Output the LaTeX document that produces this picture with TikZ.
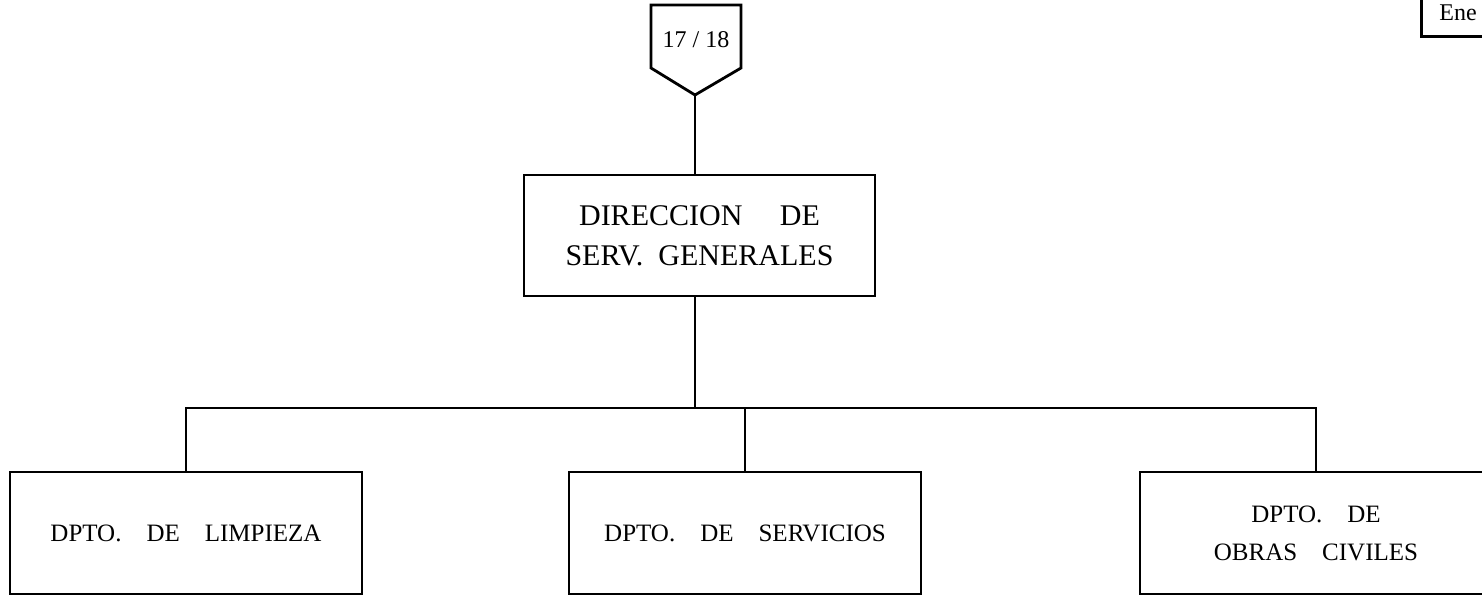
\documentclass[tikz,border=0pt]{standalone}
\usepackage{fontspec}
\setmainfont{Liberation Serif}
\usetikzlibrary{positioning, calc}
\tikzset{
  every picture/.style={line width=1.4pt},
  unit/.style={draw, align=center, inner sep=0pt, minimum width=175.5pt, minimum height=60.5pt, font=\fontsize{15}{20}\selectfont},
  dept/.style={draw, align=center, inner sep=0pt, minimum width=176pt, minimum height=61pt, font=\fontsize{12.5}{19}\selectfont},
  tag/.style={font=\fontsize{12}{14}\selectfont, inner sep=1pt},
}

\begin{document}
\begin{tikzpicture}[x=0.5pt, y=-0.5pt]
  \useasboundingbox (0,0) rectangle (1482,594);
  \clip (0,0) rectangle (1482,594);
  % date box, cut off at the right
  \node[draw, tag, anchor=south west, minimum height=24pt, text width=40pt, inner xsep=9pt, align=left] (fecha) at (1420,38) {Ene};
  % page marker
  \draw (651,5) -- (741,5) -- (741,68) -- (695,95) -- (651,68) -- cycle;
  \node[tag] (pag) at (696,40) {17 / 18};
  \coordinate (tip) at (695,95);
  \node[unit] (dir) at (699.5,235.5) {DIRECCION\quad\ DE\\SERV.\ \ GENERALES};
  \node[dept] (limp) at (186,533) {DPTO.\quad DE\quad LIMPIEZA};
  \node[dept] (serv) at (745,533) {DPTO.\quad DE\quad SERVICIOS};
  \node[dept] (obras) at (1316,533) {DPTO.\quad DE\\OBRAS\quad CIVILES};
  \coordinate (bar) at (695,408);
  \draw (tip) -- (tip |- dir.north);
  \draw (tip |- dir.south) -- (bar);
  \draw (limp.north) |- (bar) -| (obras.north);
  \draw (serv.north) -- (serv.north |- bar);
\end{tikzpicture}
\end{document}
